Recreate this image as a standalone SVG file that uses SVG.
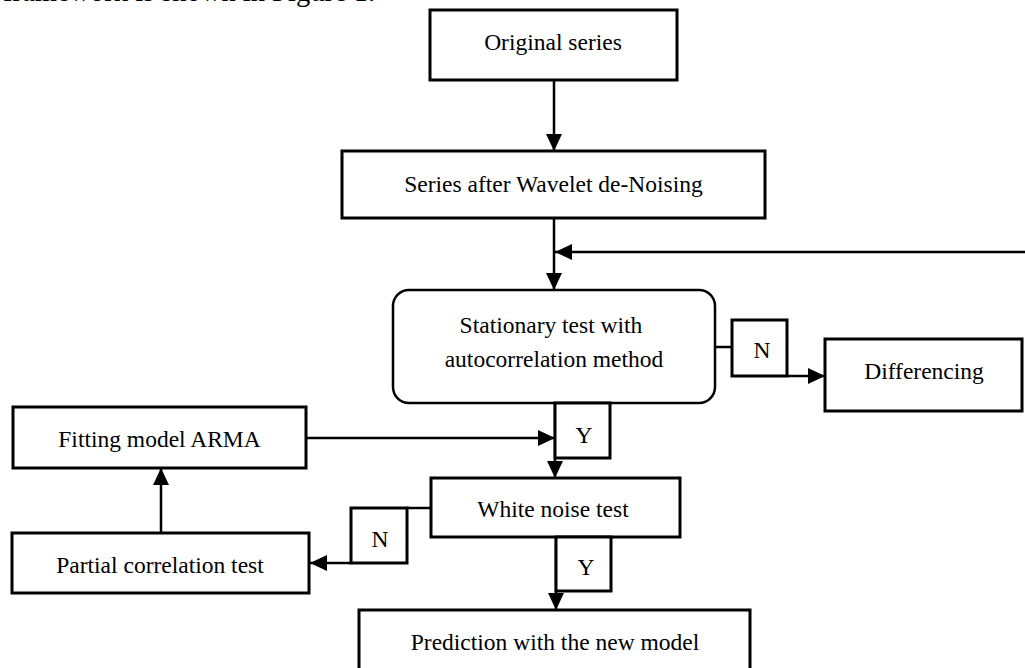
<svg xmlns="http://www.w3.org/2000/svg" width="1025" height="668" viewBox="0 0 1025 668">
<style>
text{font-family:"Liberation Serif","Times New Roman",serif;font-size:23.5px;fill:#000;text-anchor:middle}
.box{fill:#fff;stroke:#000;stroke-width:3}
.rbox{fill:#fff;stroke:#000;stroke-width:2.5}
.lab{fill:#fff;stroke:#000;stroke-width:3}
.c{fill:none;stroke:#000;stroke-width:2.5}
.a{marker-end:url(#ah)}
</style>
<defs>
<marker id="ah" markerUnits="userSpaceOnUse" markerWidth="18" markerHeight="16" refX="17" refY="8" orient="auto">
<path d="M0,0 L17,8 L0,16 z" fill="#000"/>
</marker>
</defs>
<text x="3" y="1" style="text-anchor:start;font-size:28.5px">framework is shown in Figure 1.</text>
<g id="connectors">
<path class="c a" d="M554,80 V151"/>
<path class="c a" d="M554,218 V290"/>
<path class="c a" d="M1025,252 H555"/>
<path class="c" d="M715,347 H732"/>
<path class="c a" d="M787,376 H825"/>
<path class="c a" d="M555,403 V478"/>
<path class="c a" d="M306,438 H555"/>
<path class="c a" d="M556,537 V610"/>
<path class="c" d="M431,508 H407"/>
<path class="c a" d="M351,563 H310"/>
<path class="c a" d="M161,533 V468"/>
</g>
<g id="original">
<rect class="box" x="430" y="10" width="247" height="70"/>
<text x="553" y="50">Original series</text>
</g>
<g id="wavelet">
<rect class="box" x="342" y="151" width="423" height="67"/>
<text x="553.5" y="192">Series after Wavelet de-Noising</text>
</g>
<g id="stationary">
<rect class="rbox" x="393" y="290" width="322" height="113" rx="16" ry="16"/>
<text x="551" y="333">Stationary test with</text>
<text x="554" y="367">autocorrelation method</text>
</g>
<g id="n1">
<rect class="lab" x="732" y="320" width="55" height="56"/>
<text x="762" y="358">N</text>
</g>
<g id="differencing">
<rect class="box" x="825" y="339" width="197" height="72"/>
<text x="924" y="379">Differencing</text>
</g>
<g id="y1">
<rect class="lab" x="555" y="403" width="55" height="55"/>
<text x="584" y="443">Y</text>
</g>
<g id="fitting">
<rect class="box" x="13" y="407" width="293" height="61"/>
<text x="159.5" y="447">Fitting model ARMA</text>
</g>
<g id="whitenoise">
<rect class="box" x="431" y="478" width="249" height="59"/>
<text x="553" y="517">White noise test</text>
</g>
<g id="n2">
<rect class="lab" x="351" y="508" width="56" height="55"/>
<text x="380" y="547">N</text>
</g>
<g id="partial">
<rect class="box" x="12" y="533" width="297" height="60"/>
<text x="160" y="573">Partial correlation test</text>
</g>
<g id="y2">
<rect class="lab" x="556" y="537" width="55" height="54"/>
<text x="586" y="575">Y</text>
</g>
<g id="prediction">
<rect class="box" x="359" y="610" width="391" height="62"/>
<text x="555" y="650">Prediction with the new model</text>
</g>
</svg>
